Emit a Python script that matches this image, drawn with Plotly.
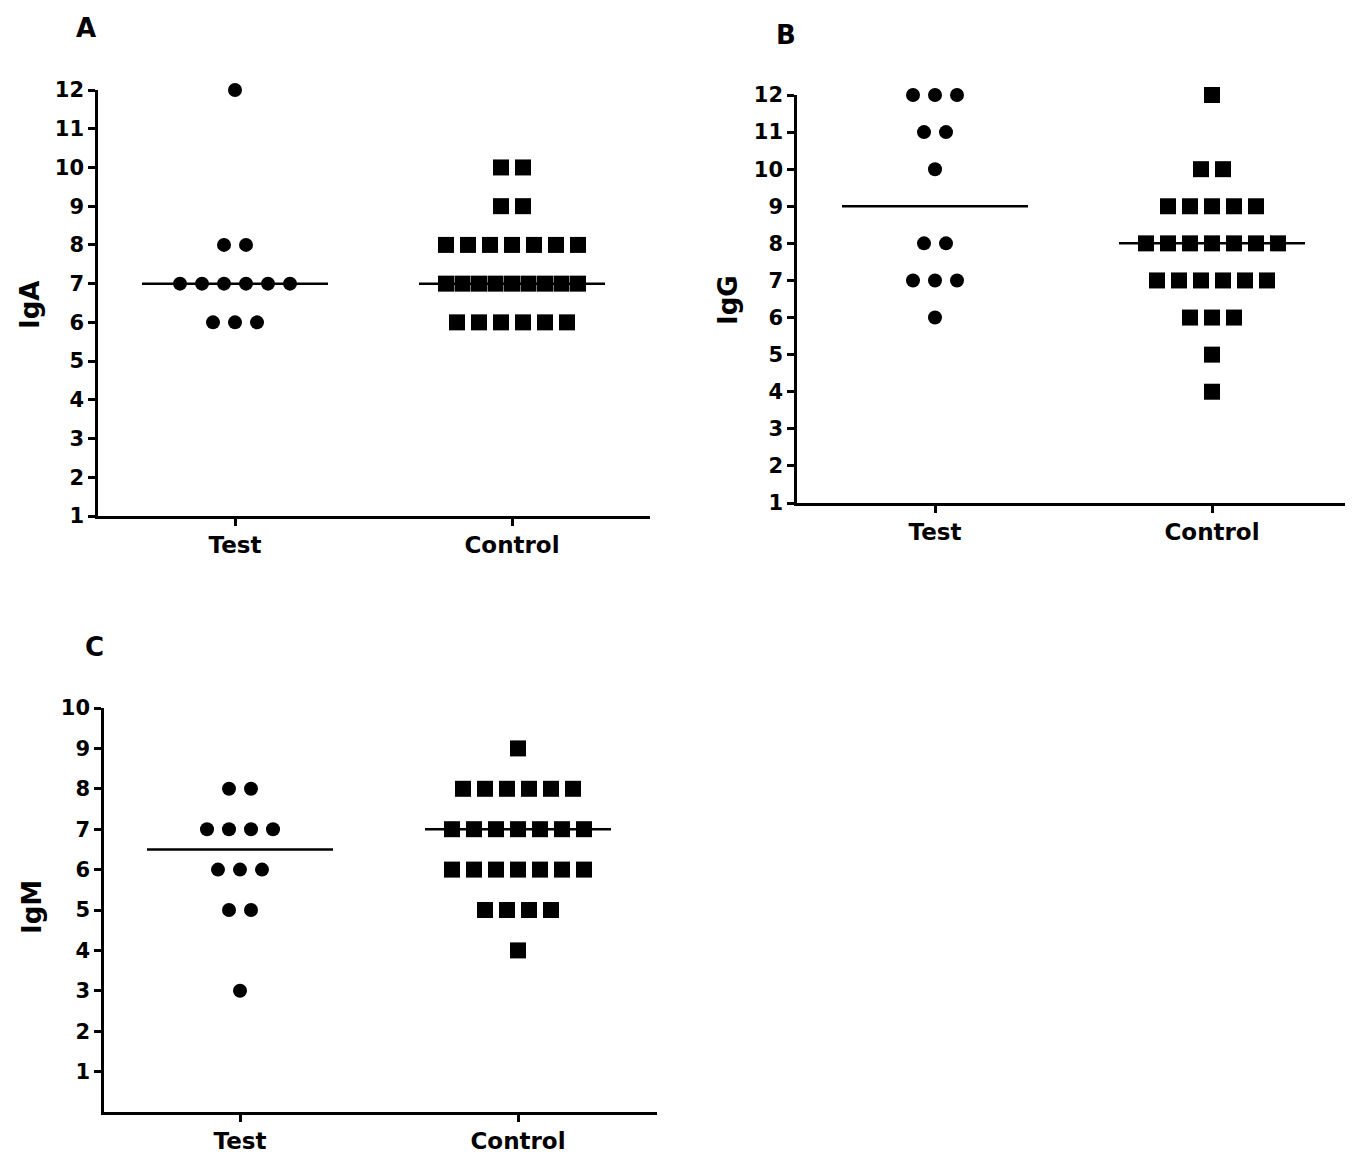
import numpy as np
import plotly.graph_objects as go

PAGE_W, PAGE_H = 1355, 1154
PAD = 8  # default page body margin
W, H = PAGE_W - 2 * PAD, PAGE_H - PAD

categories = ["Test", "Control"]

iga_test = [12, 8, 8, 7, 7, 7, 7, 7, 7, 6, 6, 6]
iga_control = [10, 10, 9, 9, 8, 8, 8, 8, 8, 8, 8,
               7, 7, 7, 7, 7, 7, 7, 7, 7, 6, 6, 6, 6, 6, 6]
igg_test = [12, 12, 12, 11, 11, 10, 8, 8, 7, 7, 7, 6]
igg_control = [12, 10, 10, 9, 9, 9, 9, 9, 8, 8, 8, 8, 8, 8, 8,
               7, 7, 7, 7, 7, 7, 6, 6, 6, 5, 4]
igm_test = [8, 8, 7, 7, 7, 7, 6, 6, 6, 5, 5, 3]
igm_control = [9, 8, 8, 8, 8, 8, 8, 7, 7, 7, 7, 7, 7, 7,
               6, 6, 6, 6, 6, 6, 6, 5, 5, 5, 5, 4]

y_ticks_ab = list(range(1, 13))
y_ticks_c = list(range(1, 11))

FONT = "DejaVu Sans, Arial, sans-serif"

# panel geometry in page pixels: (x_left, x_right, y_top, y_bottom)
panels = [
    dict(name="A", ylabel="IgA", test=iga_test, control=iga_control,
         px=(98, 650, 90, 516), cat_px=(235, 512), yrange=[1, 12], yticks=y_ticks_ab,
         letter=(86, 28), ylab_pos=(30, 305)),
    dict(name="B", ylabel="IgG", test=igg_test, control=igg_control,
         px=(797, 1345, 95, 503), cat_px=(935, 1212), yrange=[1, 12], yticks=y_ticks_ab,
         letter=(786, 35), ylab_pos=(728, 300)),
    dict(name="C", ylabel="IgM", test=igm_test, control=igm_control,
         px=(104, 657, 708, 1112), cat_px=(240, 518), yrange=[0, 10], yticks=y_ticks_c,
         letter=(94, 647), ylab_pos=(32, 907)),
]


def fx(px):
    return (px - PAD) / W


def fy(py):
    return 1 - (py - PAD) / H


def row_offsets(values, spacing_px, max_span_px):
    """Scatter-dot layout: points sharing a value are placed side by side."""
    values = np.asarray(values)
    offs = np.zeros(len(values))
    for v in np.unique(values):
        idx = np.where(values == v)[0]
        n = len(idx)
        if n == 1:
            continue
        s = min(spacing_px, max_span_px / (n - 1))
        offs[idx] = (np.arange(n) - (n - 1) / 2) * s
    return offs


fig = go.Figure()
annotations = []

for i, p in enumerate(panels):
    k = "" if i == 0 else str(i + 1)
    xa, ya = "x" + k, "y" + k
    x0, x1, yt, yb = p["px"]
    c0, c1 = p["cat_px"]
    unit = c1 - c0
    xr = [(x0 - c0) / unit, (x1 - c0) / unit]

    for ci, (vals, sym, sz) in enumerate([(p["test"], "circle", 14),
                                          (p["control"], "square", 16)]):
        med = float(np.median(vals))
        half = 93 / unit
        fig.add_trace(go.Scatter(
            x=[ci - half, ci + half], y=[med, med], mode="lines",
            line=dict(color="black", width=2.5), xaxis=xa, yaxis=ya,
            showlegend=False, hoverinfo="skip"))
        offs = row_offsets(vals, 22, 132) / unit
        fig.add_trace(go.Scatter(
            x=ci + offs, y=vals, mode="markers",
            marker=dict(symbol=sym, size=sz, color="black", line=dict(width=0)),
            xaxis=xa, yaxis=ya, showlegend=False, cliponaxis=False))

    xdom = [fx(x0), fx(x1)]
    ydom = [fy(yb), fy(yt)]
    axis_common = dict(showline=True, linecolor="black", linewidth=2.5,
                       ticks="outside", ticklen=7, tickwidth=2.5, tickcolor="black",
                       showgrid=False, zeroline=False, mirror=False, automargin=False)
    fig.layout["xaxis" + k] = dict(
        domain=xdom, range=xr, tickvals=[0, 1], ticktext=categories,
        anchor=ya, ticklabelstandoff=0,
        tickfont=dict(family=FONT, size=23, color="black", weight="bold"),
        **axis_common)
    fig.layout["yaxis" + k] = dict(
        domain=ydom, range=p["yrange"], tickvals=p["yticks"],
        anchor=xa, ticklabelstandoff=0,
        tickfont=dict(family=FONT, size=21, color="black", weight="bold"),
        **axis_common)

    lx, ly = p["letter"]
    annotations.append(dict(text=p["name"], x=fx(lx), y=fy(ly), xref="paper",
                            yref="paper", showarrow=False, xanchor="center",
                            yanchor="middle",
                            font=dict(family=FONT, size=26, color="black", weight="bold")))
    tx, ty = p["ylab_pos"]
    annotations.append(dict(text=p["ylabel"], x=fx(tx), y=fy(ty), xref="paper",
                            yref="paper", showarrow=False, textangle=-90,
                            xanchor="center", yanchor="middle",
                            font=dict(family=FONT, size=26, color="black", weight="bold")))

fig.update_layout(width=W, height=H, margin=dict(l=0, r=0, t=0, b=0, autoexpand=False),
                  template="none", plot_bgcolor="white", paper_bgcolor="white",
                  annotations=annotations)

fig.write_html("out.html")
